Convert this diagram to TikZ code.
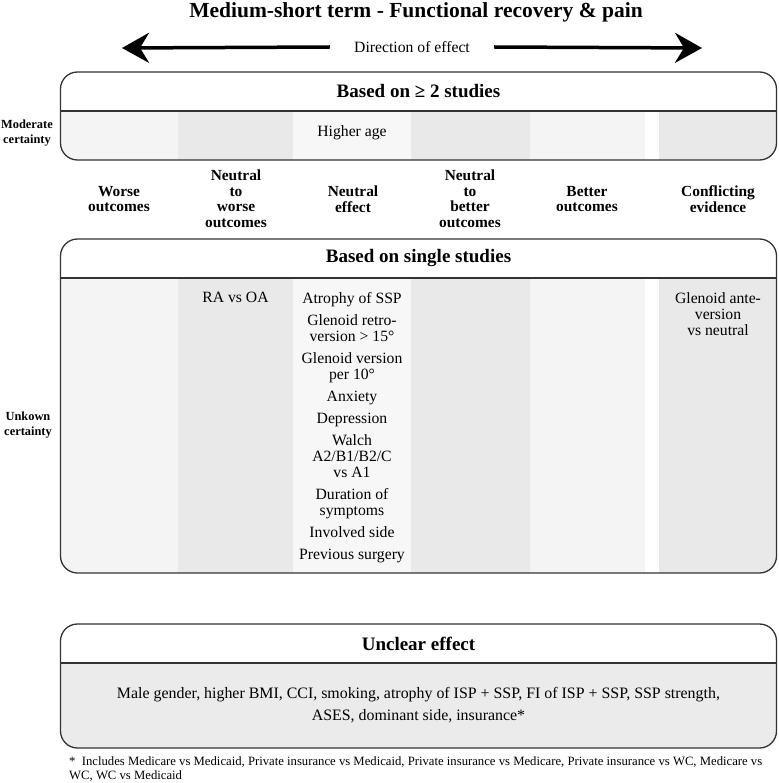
\documentclass[tikz,border=0pt]{standalone}
\usepackage{fontspec}
\setmainfont{Liberation Serif}
\usetikzlibrary{arrows.meta}

\definecolor{framegray}{HTML}{333333}
\definecolor{colL}{HTML}{F4F4F4}
\definecolor{colM}{HTML}{F7F7F7}
\definecolor{colD}{HTML}{E9E9E9}
\definecolor{colU}{HTML}{EBEBEB}

\begin{document}
\begin{tikzpicture}[x=1pt, y=-1pt, node distance=117pt, auto]

\tikzstyle{frame} = [draw=framegray, line width=1.3pt, rounded corners=17pt]
\tikzstyle{divider} = [draw=framegray, line width=1.3pt]
\tikzstyle{boxtitle} = [font=\fontsize{19}{22}\selectfont\bfseries]
\tikzstyle{colhead} = [align=center, font=\fontsize{15.4}{15.5}\selectfont\bfseries]
\tikzstyle{side} = [align=center, inner sep=0pt, font=\fontsize{12.4}{15.7}\selectfont\bfseries]
\tikzstyle{cell} = [align=center, inner sep=0pt, font=\fontsize{15.7}{16}\selectfont]
\tikzstyle{bigarrow} = [draw, line width=3.5pt, -{Stealth[length=27pt, width=30pt, inset=9pt]}]

\useasboundingbox (0,0) rectangle (778,783);

% title and direction of effect
\node [font=\fontsize{21.5}{24}\selectfont\bfseries, anchor=base, inner sep=0pt] (title) at (416,18) {Medium-short term - Functional recovery \& pain};
\node [font=\fontsize{15.7}{18}\selectfont, inner xsep=24pt] (dir) at (412,47) {Direction of effect};
\coordinate (ltip) at (122,48);
\coordinate (rtip) at (702,48);
\path [bigarrow] (dir.west) -- (ltip);
\path [bigarrow] (dir.east) -- (rtip);

% based on >= 2 studies
\begin{scope}
\clip [rounded corners=17pt] (60.5,72) rectangle (776.5,160);
\foreach \xa/\xb/\c in {60/178/colL, 178/293/colD, 293/411/colM, 411/530/colD, 530/645/colL, 659/777/colD}
  \fill [\c] (\xa,111) rectangle (\xb,160);
\end{scope}
\draw [frame] (60.5,72) rectangle (776.5,160);
\draw [divider] (60.5,111) -- (776.5,111);
\node [boxtitle] (multi) at (418.5,91) {Based on ≥ 2 studies};
\node [cell] (age) at (352,133) {Higher age};
\node [side] (moderate) at (27,133) {Moderate\\certainty};

% column headings
\node [colhead] (worse) at (119,199) {Worse\\outcomes};
\node [colhead, right of=worse] (ntw) {Neutral\\to\\worse\\outcomes};
\node [colhead, right of=ntw] (neutral) {Neutral\\effect};
\node [colhead, right of=neutral] (ntb) {Neutral\\to\\better\\outcomes};
\node [colhead, right of=ntb] (better) {Better\\outcomes};
\node [colhead, right of=better, node distance=131pt] (conflict) {Conflicting\\evidence};

% based on single studies
\begin{scope}
\clip [rounded corners=17pt] (60.5,239) rectangle (776.5,573);
\foreach \xa/\xb/\c in {60/178/colL, 178/293/colD, 293/411/colM, 411/530/colD, 530/645/colL, 659/777/colD}
  \fill [\c] (\xa,278) rectangle (\xb,573);
\end{scope}
\draw [frame] (60.5,239) rectangle (776.5,573);
\draw [divider] (60.5,278) -- (776.5,278);
\node [boxtitle] (single) at (418.5,258) {Based on single studies};
\node [side] (unknown) at (28,425) {Unkown\\certainty};
\node [cell, anchor=north] (ravsoa) at (235.5,292) {RA vs OA};
\node [cell, anchor=north] (neutrallist) at (352,292) {Atrophy of SSP\\[6pt]
  Glenoid retro-\\version > 15°\\[6pt]
  Glenoid version\\per 10°\\[6pt]
  Anxiety\\[6pt]
  Depression\\[6pt]
  Walch\\A2/B1/B2/C\\vs A1\\[6pt]
  Duration of\\symptoms\\[6pt]
  Involved side\\[6pt]
  Previous surgery};
\node [cell, anchor=north] (ante) at (718,292) {Glenoid ante-\\version\\vs neutral};

% unclear effect
\begin{scope}
\clip [rounded corners=17pt] (60.5,624) rectangle (776.5,748);
\fill [colU] (60,663) rectangle (777,748);
\end{scope}
\draw [frame] (60.5,624) rectangle (776.5,748);
\draw [divider] (60.5,663) -- (776.5,663);
\node [boxtitle] (unclear) at (418.5,644) {Unclear effect};
\node [align=center, font=\fontsize{15.9}{21.7}\selectfont] (unclearlist) at (418.5,705)
  {Male gender, higher BMI, CCI, smoking, atrophy of ISP + SSP, FI of ISP + SSP, SSP strength,\\ASES, dominant side, insurance*};
\node [anchor=north west, align=left, inner sep=0pt, font=\fontsize{12.7}{14}\selectfont] (note) at (69,756)
  {*\ \ Includes Medicare vs Medicaid, Private insurance vs Medicaid, Private insurance vs Medicare, Private insurance vs WC, Medicare vs\\WC, WC vs Medicaid};
\end{tikzpicture}
\end{document}
